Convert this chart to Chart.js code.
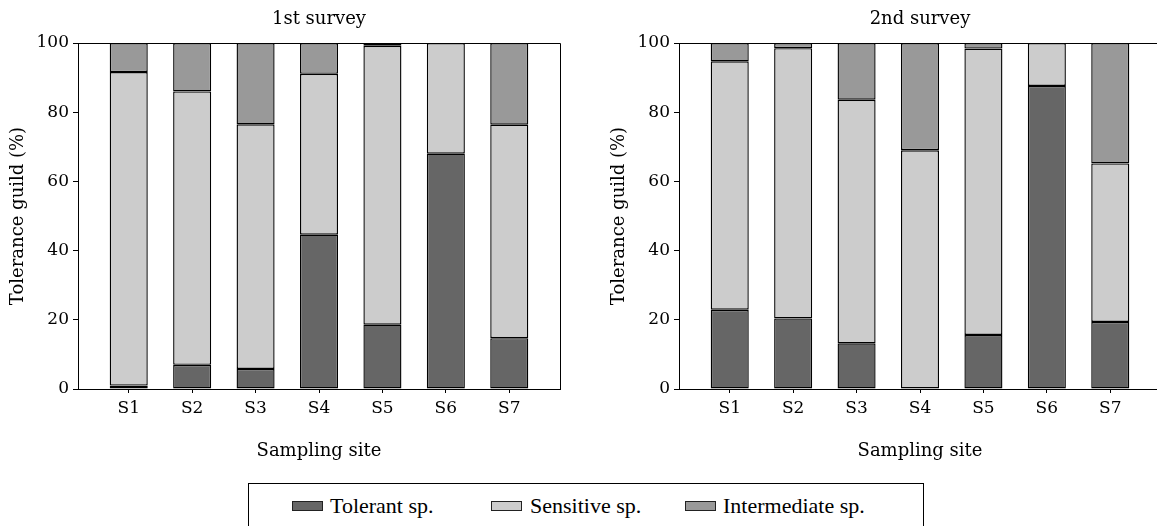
<!DOCTYPE html>
<html><head><meta charset="utf-8">
<script src="https://cdn.jsdelivr.net/npm/chart.js@4/dist/chart.umd.min.js"></script>
<style>
html,body{margin:0;padding:0;background:#fff;}
body{width:1157px;height:526px;overflow:hidden;position:relative;}
.wrap{position:absolute;top:0;width:580px;height:470px;}
#legendBox{position:absolute;left:248px;top:483px;width:676px;height:70px;border:1px solid #000;box-sizing:border-box;}
.sw{position:absolute;top:501px;width:31px;height:10px;border:1px solid #222;box-sizing:border-box;}
.lt{position:absolute;top:493px;font-family:"Liberation Serif",serif;font-size:22px;line-height:26px;color:#000;white-space:nowrap;}
</style>
</head><body>
<div class="wrap" style="left:0px"><canvas id="c1" width="580" height="470"></canvas></div>
<div class="wrap" style="left:601px"><canvas id="c2" width="580" height="470"></canvas></div>
<div id="legendBox"></div>
<div id="legend"></div>
<script>
// ---- data ----
const sites = ['S1','S2','S3','S4','S5','S6','S7'];
const seriesNames = ['Tolerant sp.','Sensitive sp.','Intermediate sp.'];
const surveyTitles = ['1st survey','2nd survey'];
const yTicks = [0,20,40,60,80,100];

const survey1Tolerant     = [1.0, 7.0, 5.8, 44.6, 18.6, 68.0, 14.7];
const survey1Sensitive    = [90.6, 79.0, 70.7, 46.5, 80.6, 32.0, 61.7];
const survey1Intermediate = [8.4, 14.0, 23.5, 8.9, 0.8, 0.0, 23.6];

const survey2Tolerant     = [22.9, 20.4, 13.2, 0.0, 15.6, 87.6, 19.4];
const survey2Sensitive    = [71.8, 78.1, 70.4, 69.0, 82.8, 12.4, 45.8];
const survey2Intermediate = [5.3, 1.5, 16.4, 31.0, 1.6, 0.0, 34.8];

// ---- styles ----
const colors = ['#666666','#cccccc','#999999'];
const FAM = 'DejaVu Serif';

Chart.defaults.font.family = FAM;
Chart.defaults.font.size = 18;
Chart.defaults.color = '#000';

const frame = {
  id:'frame',
  afterDatasetsDraw(chart){
    const a = chart.chartArea, ctx = chart.ctx;
    ctx.save();
    ctx.strokeStyle = '#000'; ctx.lineWidth = 1;
    ctx.beginPath();
    ctx.moveTo(a.left, a.top + 0.5);
    ctx.lineTo(a.right + 0.5, a.top + 0.5);
    ctx.lineTo(a.right + 0.5, a.bottom);
    ctx.stroke();
    ctx.restore();
  }
};

function makeChart(id, title, series){
  const datasets = series.map((arr, k) => ({
    label: seriesNames[k],
    data: arr.map((v, i) => ({x: i + 1, y: v})),
    backgroundColor: colors[k],
    borderColor: '#000',
    borderWidth: 1.4,
    borderSkipped: false,
    inflateAmount: 0,
    barPercentage: 0.6,
    categoryPercentage: 1.0
  }));
  return new Chart(document.getElementById(id), {
    type: 'bar',
    data: {datasets},
    plugins: [frame],
    options: {
      responsive: false,
      animation: false,
      layout: {padding: {left:0, right:20, top:0, bottom:0}},
      plugins: {
        legend: {display:false},
        tooltip: {enabled:false},
        title: {display:true, text:title, fullSize:false, color:'#000',
                font:{family:FAM, size:18, weight:'normal'},
                padding:{top:9, bottom:12.4}}
      },
      scales: {
        x: {
          type:'linear', min:0.2, max:7.8, stacked:true, offset:false,
          grid:{display:true, offset:false, drawOnChartArea:false, drawTicks:true, tickLength:4, color:'#000'},
          border:{display:true, color:'#000', width:1},
          ticks:{stepSize:1, includeBounds:false, autoSkip:false, maxRotation:0, padding:5, color:'#000',
                 font:{size:17},
                 callback:(v)=> (Number.isInteger(v) && v>=1 && v<=sites.length) ? sites[v-1] : ''},
          title:{display:true, text:'Sampling site', color:'#000', font:{size:18}, padding:{top:0, bottom:8.2}},
          afterFit:(s)=>{ s.height = 81; }
        },
        y: {
          type:'linear', min:0, max:100, stacked:true,
          grid:{display:true, drawOnChartArea:false, drawTicks:true, tickLength:5, color:'#000'},
          border:{display:true, color:'#000', width:1},
          afterBuildTicks:(s)=>{ s.ticks = yTicks.map(v=>({value:v})); },
          ticks:{padding:4, color:'#000', font:{size:17}},
          title:{display:true, text:'Tolerance guild (%)', color:'#000', font:{size:18}, padding:{top:7.2, bottom:0}},
          afterFit:(s)=>{ s.width = 78; }
        }
      }
    }
  });
}

makeChart('c1', surveyTitles[0], [survey1Tolerant, survey1Sensitive, survey1Intermediate]);
makeChart('c2', surveyTitles[1], [survey2Tolerant, survey2Sensitive, survey2Intermediate]);

// ---- legend ----
const swLeft = [292, 491, 685];
const txLeft = [330, 530, 723];
const lg = document.getElementById('legend');
seriesNames.forEach((n, k) => {
  const s = document.createElement('div');
  s.className = 'sw'; s.style.left = swLeft[k] + 'px'; s.style.background = colors[k];
  lg.appendChild(s);
  const t = document.createElement('div');
  t.className = 'lt'; t.style.left = txLeft[k] + 'px'; t.textContent = n;
  lg.appendChild(t);
});
</script>
</body></html>
